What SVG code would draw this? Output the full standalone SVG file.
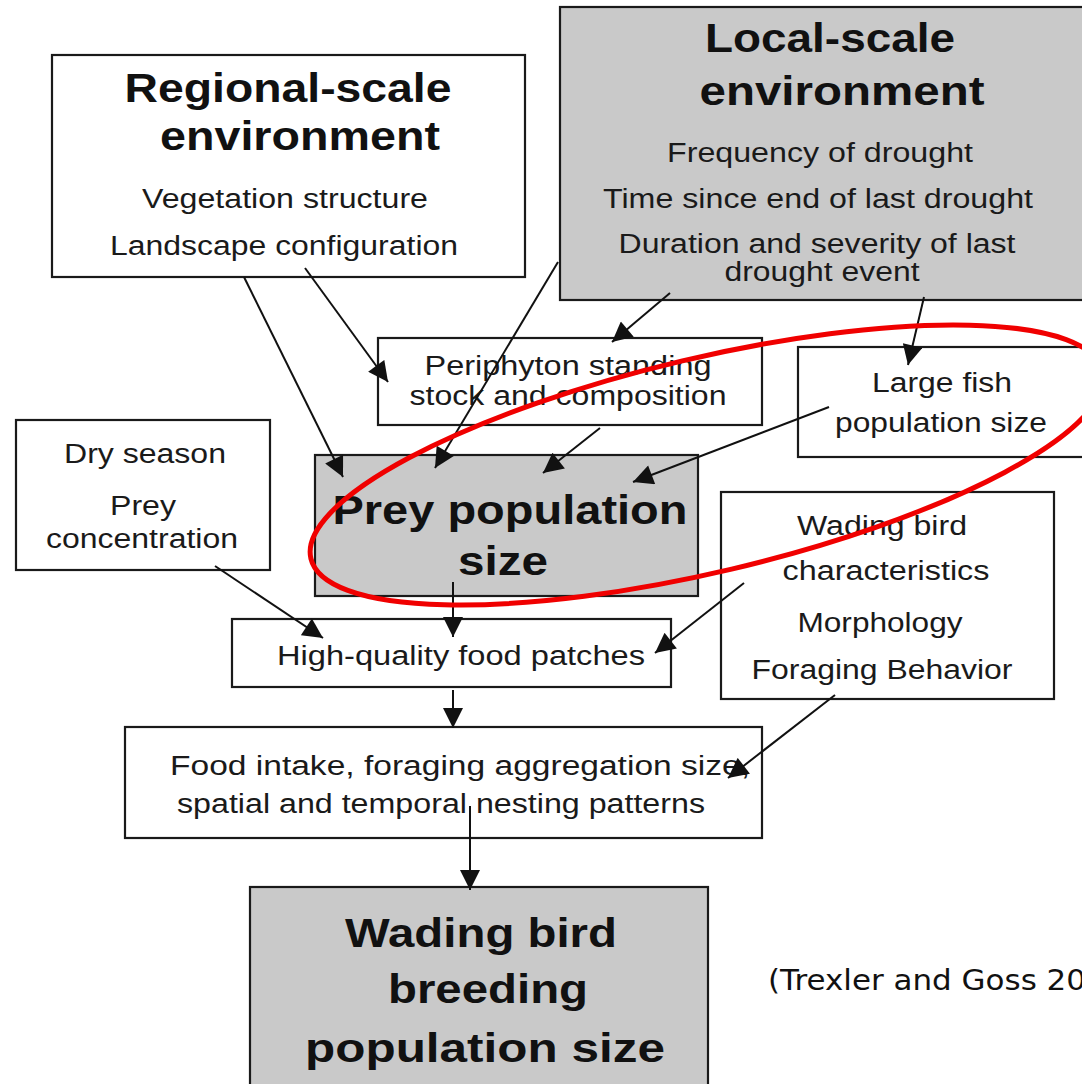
<svg xmlns="http://www.w3.org/2000/svg" width="1082" height="1084" viewBox="0 0 1082 1084">
  <style>
    .box { fill: #ffffff; stroke: #1a1a1a; stroke-width: 2.2; }
    .shade { fill: #c9c9c9; }
    .t { font-family: "Liberation Sans", Arial, sans-serif; font-size: 27px; fill: #1a1a1a; text-anchor: middle; }
    .h { font-family: "Liberation Sans", Arial, sans-serif; font-size: 41px; font-weight: bold; fill: #111; text-anchor: middle; }
    .cite { font-family: "DejaVu Sans", sans-serif; font-size: 29px; fill: #111; }
    .link { stroke: #111; stroke-width: 2; fill: none; marker-end: url(#arrow); }
    .ring { fill: none; stroke: #f00000; stroke-width: 5; }
  </style>
  <defs>
    <!-- filled triangular arrowhead shared by all connectors -->
    <marker id="arrow" viewBox="0 0 20 20" refX="20" refY="10" markerWidth="21" markerHeight="20" markerUnits="userSpaceOnUse" orient="auto">
      <path d="M0,0 L20,10 L0,20 z" fill="#111"/>
    </marker>
  </defs>
  <rect width="1082" height="1084" fill="#ffffff"/>

  <g id="regional">
    <rect class="box" x="52" y="55" width="473" height="222"/>
    <text class="h" x="288" y="102" textLength="327" lengthAdjust="spacingAndGlyphs">Regional-scale</text>
    <text class="h" x="300" y="150" textLength="280" lengthAdjust="spacingAndGlyphs">environment</text>
    <text class="t" x="285" y="208" textLength="286" lengthAdjust="spacingAndGlyphs">Vegetation structure</text>
    <text class="t" x="284" y="255" textLength="348" lengthAdjust="spacingAndGlyphs">Landscape configuration</text>
  </g>

  <g id="local">
    <rect class="box shade" x="560" y="7" width="540" height="293"/>
    <text class="h" x="830" y="52" textLength="250" lengthAdjust="spacingAndGlyphs">Local-scale</text>
    <text class="h" x="842" y="105" textLength="285" lengthAdjust="spacingAndGlyphs">environment</text>
    <text class="t" x="820" y="162" textLength="306" lengthAdjust="spacingAndGlyphs">Frequency of drought</text>
    <text class="t" x="818" y="208" textLength="430" lengthAdjust="spacingAndGlyphs">Time since end of last drought</text>
    <text class="t" x="817" y="253" textLength="397" lengthAdjust="spacingAndGlyphs">Duration and severity of last</text>
    <text class="t" x="822" y="281" textLength="195" lengthAdjust="spacingAndGlyphs">drought event</text>
  </g>

  <g id="periphyton">
    <rect class="box" x="378" y="338" width="384" height="87"/>
    <text class="t" x="568" y="375" textLength="287" lengthAdjust="spacingAndGlyphs">Periphyton standing</text>
    <text class="t" x="568" y="405" textLength="317" lengthAdjust="spacingAndGlyphs">stock and composition</text>
  </g>

  <g id="large-fish">
    <rect class="box" x="798" y="347" width="300" height="110"/>
    <text class="t" x="942" y="392" textLength="140" lengthAdjust="spacingAndGlyphs">Large fish</text>
    <text class="t" x="941" y="432" textLength="212" lengthAdjust="spacingAndGlyphs">population size</text>
  </g>

  <g id="dry-season">
    <rect class="box" x="16" y="420" width="254" height="150"/>
    <text class="t" x="145" y="463" textLength="162" lengthAdjust="spacingAndGlyphs">Dry season</text>
    <text class="t" x="143" y="515" textLength="66" lengthAdjust="spacingAndGlyphs">Prey</text>
    <text class="t" x="142" y="548" textLength="192" lengthAdjust="spacingAndGlyphs">concentration</text>
  </g>

  <g id="prey">
    <rect class="box shade" x="315" y="455" width="383" height="141"/>
    <text class="h" x="510" y="524" textLength="355" lengthAdjust="spacingAndGlyphs">Prey population</text>
    <text class="h" x="503" y="575" textLength="90" lengthAdjust="spacingAndGlyphs">size</text>
  </g>

  <g id="food-patches">
    <rect class="box" x="232" y="619" width="439" height="68"/>
    <text class="t" x="461" y="665" textLength="368" lengthAdjust="spacingAndGlyphs">High-quality food patches</text>
  </g>

  <g id="bird-traits">
    <rect class="box" x="721" y="492" width="333" height="207"/>
    <text class="t" x="882" y="535" textLength="170" lengthAdjust="spacingAndGlyphs">Wading bird</text>
    <text class="t" x="886" y="580" textLength="207" lengthAdjust="spacingAndGlyphs">characteristics</text>
    <text class="t" x="880" y="632" textLength="165" lengthAdjust="spacingAndGlyphs">Morphology</text>
    <text class="t" x="882" y="679" textLength="261" lengthAdjust="spacingAndGlyphs">Foraging Behavior</text>
  </g>

  <g id="intake">
    <rect class="box" x="125" y="727" width="637" height="111"/>
    <text class="t" x="460" y="775" textLength="580" lengthAdjust="spacingAndGlyphs">Food intake, foraging aggregation size,</text>
    <text class="t" x="441" y="813" textLength="528" lengthAdjust="spacingAndGlyphs">spatial and temporal nesting patterns</text>
  </g>

  <g id="breeding">
    <rect class="box shade" x="250" y="887" width="458" height="220"/>
    <text class="h" x="481" y="947" textLength="272" lengthAdjust="spacingAndGlyphs">Wading bird</text>
    <text class="h" x="488" y="1003" textLength="200" lengthAdjust="spacingAndGlyphs">breeding</text>
    <text class="h" x="485" y="1062" textLength="360" lengthAdjust="spacingAndGlyphs">population size</text>
  </g>

  <g id="connectors">
    <line class="link" x1="244" y1="277" x2="343" y2="477"/>
    <line class="link" x1="305" y1="268" x2="388" y2="382"/>
    <line class="link" x1="558" y1="262" x2="435" y2="468"/>
    <line class="link" x1="670" y1="293" x2="612" y2="342"/>
    <line class="link" x1="924" y1="297" x2="908" y2="365"/>
    <line class="link" x1="600" y1="428" x2="543" y2="473"/>
    <line class="link" x1="829" y1="407" x2="633" y2="482"/>
    <line class="link" x1="215" y1="566" x2="323" y2="638"/>
    <line class="link" x1="453" y1="582" x2="453" y2="637"/>
    <line class="link" x1="744" y1="583" x2="655" y2="653"/>
    <line class="link" x1="453" y1="690" x2="453" y2="728"/>
    <line class="link" x1="835" y1="695" x2="728" y2="778"/>
    <line class="link" x1="470" y1="806" x2="470" y2="890"/>
  </g>

  <!-- red highlight ring around the prey / fish pathway -->
  <ellipse class="ring" cx="707" cy="465" rx="407" ry="107" transform="rotate(-13.3 707 465)"/>

  <text class="cite" x="768" y="990" textLength="318" lengthAdjust="spacingAndGlyphs">(Trexler and Goss 20</text>
</svg>
